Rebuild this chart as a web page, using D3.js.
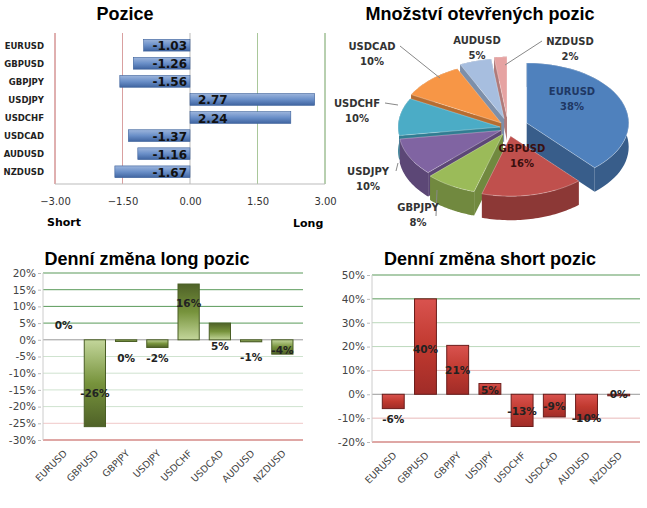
<!DOCTYPE html>
<html>
<head>
<meta charset="utf-8">
<script src="https://cdn.jsdelivr.net/npm/d3@7"></script>
<style>
  body { margin: 0; background: #fff; }
  text { font-family: "Liberation Sans", Arial, sans-serif; }
</style>
</head>
<body>
<svg id="chart" width="647" height="508"></svg>
<script>
// data
const pairs = ["EURUSD", "GBPUSD", "GBPJPY", "USDJPY", "USDCHF", "USDCAD", "AUDUSD", "NZDUSD"];
const positions = [-1.03, -1.26, -1.56, 2.77, 2.24, -1.37, -1.16, -1.67];
const posTicks = [-3, -1.5, 0, 1.5, 3];

const sharePairs = ["EURUSD", "GBPUSD", "GBPJPY", "USDJPY", "USDCHF", "USDCAD", "AUDUSD", "NZDUSD"];
const shares = [38, 16, 8, 10, 10, 10, 5, 2];

const longChange = [0, -26, -0.5, -2.3, 16.7, 5, -0.6, -4.3];
const longLabels = ["0%", "-26%", "0%", "-2%", "16%", "5%", "-1%", "-4%"];
const longTicks = [20, 15, 10, 5, 0, -5, -10, -15, -20, -25, -30];

const shortChange = [-6, 40, 20.5, 4.5, -13.5, -9.5, -10.5, -0.3];
const shortLabels = ["-6%", "40%", "21%", "5%", "-13%", "-9%", "-10%", "0%"];
const shortTicks = [50, 40, 30, 20, 10, 0, -10, -20];

const svg = d3.select("#chart");
const defs = svg.append("defs");

function grad(id, stops, vertical) {
  const g = defs.append("linearGradient").attr("id", id)
    .attr("x1", 0).attr("y1", 0).attr("x2", vertical ? 0 : 1).attr("y2", vertical ? 1 : 0);
  stops.forEach((s, i) => g.append("stop").attr("offset", i / (stops.length - 1)).attr("stop-color", s));
}
grad("gBlue", ["#9db5dc", "#6a8fc8", "#3f64a0"], true);
grad("gGreenUp", ["#4f6228", "#77933c", "#c3d69b"], true);
grad("gGreenDown", ["#c3d69b", "#77933c", "#4f6228"], true);
grad("gRed", ["#d9534f", "#c0392f", "#a02c28"], true);

function title(x, y, t) {
  svg.append("text").attr("x", x).attr("y", y).attr("text-anchor", "middle")
    .style("font-size", "18px").style("font-weight", "bold").attr("fill", "#000").text(t);
}

// ---------- Pozice ----------
title(125, 20, "Pozice");
const x1 = d3.scaleLinear().domain([-3, 3]).range([55, 325]);
const y1 = d3.scaleBand().domain(pairs).range([33, 184]).padding(0.35);
const g1 = svg.append("g");
posTicks.forEach(t => {
  const col = t < 0 ? "#d9a0a0" : t > 0 ? "#a9c79a" : "#bbb";
  g1.append("line").attr("x1", x1(t)).attr("x2", x1(t)).attr("y1", 33).attr("y2", 184)
    .attr("stroke", t === -3 ? "#c06060" : t === 3 ? "#70a060" : col).attr("stroke-width", 1);
});
g1.append("line").attr("x1", 55).attr("x2", 325).attr("y1", 184).attr("y2", 184).attr("stroke", "#bbb");
g1.append("g").attr("transform", "translate(0,186)")
  .call(d3.axisBottom(x1).tickValues(posTicks).tickFormat(d3.format(".2f")).tickSize(0).tickPadding(12))
  .call(g => g.select(".domain").remove())
  .call(g => g.selectAll("text").style("font-size", "10px").attr("fill", "#333").style("font-family", "DejaVu Sans"));
g1.selectAll("rect.bar").data(pairs).join("rect").attr("class", "bar")
  .attr("x", (d, i) => Math.min(x1(0), x1(positions[i])))
  .attr("width", (d, i) => Math.abs(x1(positions[i]) - x1(0)))
  .attr("y", d => y1(d)).attr("height", y1.bandwidth())
  .attr("fill", "url(#gBlue)").attr("stroke", "#3a5f99").attr("stroke-width", 0.6);
g1.selectAll("text.cat").data(pairs).join("text").attr("class", "cat")
  .attr("x", 44).attr("y", d => y1(d) + y1.bandwidth() / 2 + 3.5).attr("text-anchor", "end")
  .style("font-family", "DejaVu Sans").style("font-size", "8.5px").style("font-weight", "bold").attr("fill", "#222")
  .text(d => d);
g1.selectAll("text.val").data(pairs).join("text").attr("class", "val")
  .attr("x", (d, i) => positions[i] < 0 ? x1(0) - 3 : x1(0) + 8)
  .attr("y", d => y1(d) + y1.bandwidth() / 2 + 5)
  .attr("text-anchor", (d, i) => positions[i] < 0 ? "end" : "start")
  .style("font-family", "DejaVu Sans").style("font-size", "12px").style("font-weight", "bold").attr("fill", "#111")
  .text((d, i) => positions[i].toFixed(2));
svg.append("text").attr("x", 47).attr("y", 226).style("font-family", "DejaVu Sans").style("font-size", "11px")
  .style("font-weight", "bold").text("Short");
svg.append("text").attr("x", 293).attr("y", 227).style("font-family", "DejaVu Sans").style("font-size", "11px")
  .style("font-weight", "bold").text("Long");

// ---------- Pie ----------
title(480, 20, "Množství otevřených pozic");
const pieColors = ["#4f81bd", "#c0504d", "#9bbb59", "#8064a2", "#4bacc6", "#f79646", "#a7bedf", "#e6a3a2"];
const pieDark = ["#385d8a", "#8c3836", "#71893f", "#5c4776", "#317d92", "#b66d31", "#7d8fa9", "#b07a79"];
const pie = d3.pie().sort(null).value(d => d)(shares);
const cx = 508, cy = 128, rx = 102, ry = 60, depth = 24;
const explode = [20, 12, 10, 8, 8, 10, 14, 16];
const pg = svg.append("g");
function pt(a, r, ox, oy, dz) {
  return [cx + ox + r * rx * Math.sin(a), cy + oy - r * ry * Math.cos(a) + (dz || 0)];
}
const slices = pie.map((p, i) => {
  const mid = (p.startAngle + p.endAngle) / 2;
  return { p, i, ox: explode[i] * Math.sin(mid), oy: explode[i] * 0.7 * -Math.cos(mid), mid };
});
// walls, back to front
slices.slice().sort((a, b) => -Math.cos(a.mid) - -Math.cos(b.mid)).forEach(s => {
  const { p, i, ox, oy } = s;
  const n = 40, top = [], bot = [];
  for (let k = 0; k <= n; k++) {
    const a = p.startAngle + (p.endAngle - p.startAngle) * k / n;
    top.push(pt(a, 1, ox, oy)); bot.push(pt(a, 1, ox, oy, depth));
  }
  const c0 = pt(0, 0, ox, oy), c1 = pt(0, 0, ox, oy, depth);
  [p.startAngle, p.endAngle].forEach(a => {
    const e0 = pt(a, 1, ox, oy), e1 = pt(a, 1, ox, oy, depth);
    pg.append("path").attr("d", d3.line()([c0, e0, e1, c1])).attr("fill", pieDark[i]);
  });
  pg.append("path").attr("d", d3.line()(top.concat(bot.reverse()))).attr("fill", pieDark[i]);
  s.top = [c0].concat(top);
});
slices.forEach(s => {
  pg.append("path").attr("d", d3.line()(s.top) + "Z").attr("fill", pieColors[s.i])
    .attr("stroke", "#fff").attr("stroke-width", 0.3);
});
const pieLabelPos = [[572, 95, "#1f3864"], [522, 152, "#3a0f0e"], [418, 211, "#333"], [368, 175, "#333"],
  [357, 107, "#333"], [372, 50, "#333"], [477, 44, "#333"], [570, 45, "#333"]];
const leaderTo = [null, null, [437, 190], [398, 163], [398, 105], [440, 78], null, [505, 65]];
sharePairs.forEach((name, i) => {
  const [lx, ly, col] = pieLabelPos[i];
  if (leaderTo[i]) {
    const sx = i === 4 || i === 3 ? lx + 28 : i === 2 ? lx + 18 : i === 5 ? lx + 28 : lx - 28;
    const sy = i === 2 ? ly + 5 : ly - 4;
    pg.append("polyline").attr("points", [[sx, sy], leaderTo[i]].join(" "))
      .attr("fill", "none").attr("stroke", "#888").attr("stroke-width", 1);
  }
  const t = pg.append("text").attr("x", lx).attr("y", ly).attr("text-anchor", "middle")
    .style("font-family", "DejaVu Sans").style("font-size", "10px").style("font-weight", "bold").attr("fill", col);
  t.append("tspan").attr("x", lx).text(name);
  t.append("tspan").attr("x", lx).attr("dy", 15).text(shares[i] + "%");
});

// ---------- column charts ----------
function columns(opts) {
  const { left, right, top, bottom, domain, ticks, values, labels, labelAt, gridCol, fillUp, fillDown, stroke, tx, ty, name } = opts;
  title(tx, ty, name);
  const x = d3.scaleBand().domain(pairs).range([left, right]).padding(0.32);
  const y = d3.scaleLinear().domain(domain).range([bottom, top]);
  const g = svg.append("g");
  ticks.forEach(t => {
    g.append("line").attr("x1", left).attr("x2", right).attr("y1", y(t)).attr("y2", y(t))
      .attr("stroke", gridCol(t)).attr("stroke-width", t === domain[0] || t === domain[1] ? 1.2 : 1);
  });
  g.append("line").attr("x1", left).attr("x2", left).attr("y1", top).attr("y2", bottom).attr("stroke", "#ccc");
  g.append("g").attr("transform", `translate(${left - 2},0)`)
    .call(d3.axisLeft(y).tickValues(ticks).tickFormat(d => d + "%").tickSize(3).tickPadding(2))
    .call(g => g.select(".domain").remove())
    .call(g => g.selectAll("line").attr("stroke", "#bbb"))
    .call(g => g.selectAll("text").style("font-size", "10.5px").style("font-family", "DejaVu Sans").attr("fill", "#444"));
  g.selectAll("rect").data(pairs.filter((d, i) => values[i] !== 0)).join("rect")
    .attr("x", d => x(d)).attr("width", x.bandwidth())
    .attr("y", d => Math.min(y(0), y(values[pairs.indexOf(d)])))
    .attr("height", d => Math.max(1.5, Math.abs(y(values[pairs.indexOf(d)]) - y(0))))
    .attr("fill", d => values[pairs.indexOf(d)] >= 0 ? fillUp : fillDown).attr("stroke", stroke).attr("stroke-width", 1);
  g.selectAll("text.lbl").data(pairs).join("text").attr("class", "lbl")
    .attr("x", d => x(d) + x.bandwidth() / 2).attr("y", (d, i) => y(labelAt[i]) + 4)
    .attr("text-anchor", "middle").style("font-family", "DejaVu Sans").style("font-size", "10.5px")
    .style("font-weight", "bold").attr("fill", "#222").text((d, i) => labels[i]);
  g.selectAll("text.cat").data(pairs).join("text").attr("class", "cat")
    .attr("transform", d => `translate(${x(d) + x.bandwidth() / 2 + 4},${bottom + 14}) rotate(-45)`)
    .attr("text-anchor", "end").style("font-family", "DejaVu Sans").style("font-size", "9.5px")
    .attr("fill", "#444").text(d => d);
}

columns({
  name: "Denní změna long pozic", tx: 147, ty: 265,
  left: 43, right: 303, top: 273, bottom: 440, domain: [-30, 20], ticks: longTicks,
  values: longChange, labels: longLabels, labelAt: [4.5, -16, -5.5, -5.5, 11, -2, -5, -3],
  gridCol: t => t === -30 ? "#c0504d" : t === -25 ? "#f0c8c8" : t === 0 ? "#999" : t > 0 ? "#5a9a5a" : "#cfe3cf",
  fillUp: "url(#gGreenUp)", fillDown: "url(#gGreenDown)", stroke: "#4a5e25"
});
columns({
  name: "Denní změna short pozic", tx: 490, ty: 265,
  left: 372, right: 640, top: 275, bottom: 442, domain: [-20, 50], ticks: shortTicks,
  values: shortChange, labels: shortLabels, labelAt: [-10.5, 19, 10, 2, -7, -5, -10, 0],
  gridCol: t => t === -20 ? "#c0504d" : t === 0 ? "#999" : t >= 40 ? "#5a9a5a" : t > 10 ? "#bcd9bc" : "#e8b8b8",
  fillUp: "url(#gRed)", fillDown: "url(#gRed)", stroke: "#6b1d1b"
});
</script>
</body>
</html>
